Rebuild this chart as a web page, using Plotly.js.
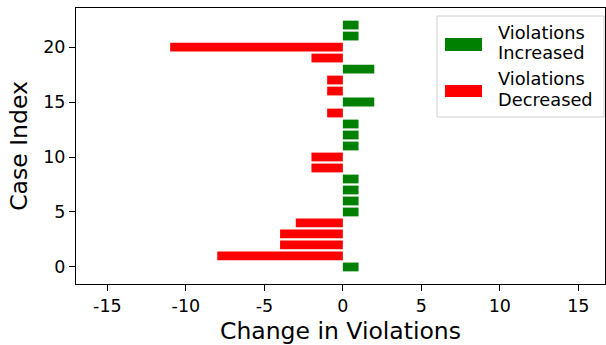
<!DOCTYPE html>
<html>
<head>
<meta charset="utf-8">
<script src="https://cdn.plot.ly/plotly-3.0.1.min.js"></script>
<style>html,body{margin:0;padding:0;background:#fff;}#chart{width:606px;height:345px;}</style>
</head>
<body>
<div id="chart"></div>
<script>
const caseIndex = [0,1,2,3,4,5,6,7,8,9,10,11,12,13,14,15,16,17,18,19,20,21,22];
const changeInViolations = [1,-8,-4,-4,-3,1,1,1,1,-2,-2,1,1,1,-1,2,-1,-1,2,-2,-11,1,1];
const xTicks = [-15,-10,-5,0,5,10,15];
const yTicks = [0,5,10,15,20];
const legendIncreased = ["Violations", "Increased"];
const legendDecreased = ["Violations", "Decreased"];

const incY = [], incX = [], decY = [], decX = [];
caseIndex.forEach((c, i) => {
  const v = changeInViolations[i];
  if (v > 0) { incY.push(c); incX.push(v); }
  else { decY.push(c); decX.push(v); }
});

const font = "DejaVu Sans, sans-serif";
const traces = [
  {type:'bar', orientation:'h', y:incY, x:incX, width:0.8, marker:{color:'green'}, showlegend:false, hoverinfo:'none'},
  {type:'bar', orientation:'h', y:decY, x:decX, width:0.8, marker:{color:'red'}, showlegend:false, hoverinfo:'none'}
];

const L = 76, R = 605, T = 8, B = 284;
const px = x => (x - L) / (R - L);
const py = y => (B - y) / (B - T);

const legFont = {size:17.8, family:font, color:'#000'};
const legAnn = (text, y) => ({xref:'paper', yref:'paper', x:px(496), y:py(y), xanchor:'left', yanchor:'middle', text:text, showarrow:false, align:'left', font:legFont});

const layout = {
  width:606, height:345,
  margin:{l:L, r:606-R, t:T, b:345-B, pad:0},
  paper_bgcolor:'#fff', plot_bgcolor:'#fff',
  barmode:'overlay',
  font:{family:font, color:'#000', size:17},
  xaxis:{range:[-17,16.7], tickvals:xTicks, ticktext:xTicks.map(String), showgrid:false, zeroline:false,
    showline:true, linecolor:'#000', linewidth:1, mirror:true, ticks:'outside', ticklen:6, tickcolor:'#000',
    tickfont:{size:17.5, family:font}, title:{text:'Change in Violations', font:{size:23.5, family:font}, standoff:11}},
  yaxis:{range:[-1.55,23.55], tickvals:yTicks, showgrid:false, zeroline:false,
    showline:true, linecolor:'#000', linewidth:1, mirror:true, ticks:'outside', ticklen:6, tickcolor:'#000',
    tickfont:{size:17.5, family:font}, title:{text:'Case Index', font:{size:23.5, family:font}, standoff:8}},
  shapes:[
    {type:'rect', xref:'paper', yref:'paper', x0:px(437), x1:px(604), y0:py(117), y1:py(16), line:{color:'#d0d0d0', width:1}, fillcolor:'rgba(255,255,255,0.85)'},
    {type:'rect', xref:'paper', yref:'paper', x0:px(445), x1:px(482), y0:py(51), y1:py(38), line:{width:0}, fillcolor:'green'},
    {type:'rect', xref:'paper', yref:'paper', x0:px(445), x1:px(482), y0:py(97), y1:py(85), line:{width:0}, fillcolor:'red'}
  ],
  annotations:[
    legAnn(legendIncreased[0], 32.5),
    legAnn(legendIncreased[1], 53),
    legAnn(legendDecreased[0], 78.5),
    legAnn(legendDecreased[1], 99.5)
  ]
};

Plotly.newPlot('chart', traces, layout, {displayModeBar:false, staticPlot:true});
</script>
</body>
</html>
